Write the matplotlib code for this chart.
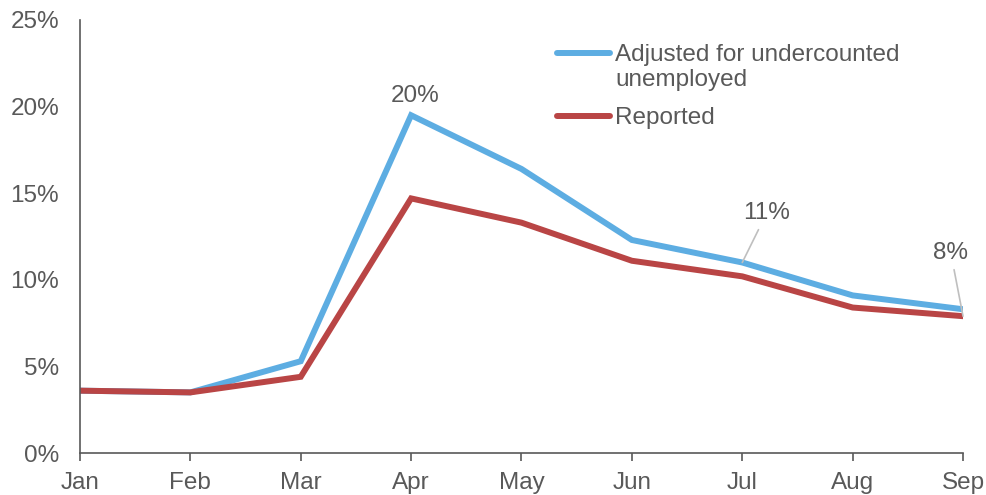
import matplotlib.pyplot as plt
from matplotlib.legend_handler import HandlerLine2D
from matplotlib.ticker import FuncFormatter

months = ["Jan", "Feb", "Mar", "Apr", "May", "Jun", "Jul", "Aug", "Sep"]
adjusted = [3.6, 3.5, 5.3, 19.5, 16.4, 12.3, 11.0, 9.1, 8.3]
reported = [3.6, 3.5, 4.4, 14.7, 13.3, 11.1, 10.2, 8.4, 7.9]

GRAY = "#595959"
BLUE = "#5DADE2"
RED = "#B94545"
FS = 17.5


class RaisedLine(HandlerLine2D):
    """Handle aligned with the first line of a two-line label."""

    def __init__(self, shift, **kw):
        super().__init__(**kw)
        self.shift = shift

    def create_artists(self, legend, orig_handle, xdescent, ydescent,
                       width, height, fontsize, trans):
        arts = super().create_artists(legend, orig_handle, xdescent, ydescent,
                                      width, height, fontsize, trans)
        for a in arts:
            a.set_ydata([y + self.shift for y in a.get_ydata()])
        return arts


plt.rcParams["font.family"] = ["Liberation Sans", "DejaVu Sans"]

fig = plt.figure(figsize=(9.86, 4.95), dpi=100)
ax = fig.add_axes([0.0811, 0.0848, 0.8956, 0.8748])

x = range(len(months))
l_adj, = ax.plot(x, adjusted, color=BLUE, lw=4.3, solid_joinstyle="miter",
                 solid_capstyle="round", label="Adjusted for undercounted\nunemployed")
ax.plot(x, reported, color=RED, lw=4.3, solid_joinstyle="miter",
        solid_capstyle="round", label="Reported")

ax.set_xlim(0, len(months) - 1)
ax.set_ylim(0, 25)
ax.set_yticks(range(0, 26, 5))
ax.yaxis.set_major_formatter(FuncFormatter(lambda v, _: f"{v:.0f}%"))
ax.set_xticks(list(x))
ax.set_xticklabels(months)

for s in ["top", "right"]:
    ax.spines[s].set_visible(False)
for s in ["left", "bottom"]:
    ax.spines[s].set_color(GRAY)
    ax.spines[s].set_linewidth(1.2)
ax.tick_params(axis="y", length=0, labelsize=FS, labelcolor=GRAY, pad=15)
ax.tick_params(axis="x", length=6, width=1.2, color=GRAY, labelsize=FS,
               labelcolor=GRAY, pad=8)

# labels
ax.annotate("20%", (3, adjusted[3]), xytext=(3.04, 20.0), textcoords="data",
            ha="center", va="bottom", fontsize=FS, color=GRAY)
ax.annotate("11%", (6, adjusted[6]), xytext=(6.22, 13.2), textcoords="data",
            ha="center", va="bottom", fontsize=FS, color=GRAY,
            arrowprops=dict(arrowstyle="-", color="#BFBFBF", lw=1.2,
                            shrinkA=2, shrinkB=0))
ax.annotate("8%", (8, reported[8]), xytext=(7.89, 10.9), textcoords="data",
            ha="center", va="bottom", fontsize=FS, color=GRAY,
            arrowprops=dict(arrowstyle="-", color="#BFBFBF", lw=1.2,
                            shrinkA=2, shrinkB=0))

leg = ax.legend(loc="upper left", bbox_to_anchor=(0.515, 0.995), frameon=False,
                fontsize=FS, handlelength=2.2, handletextpad=0.2,
                labelspacing=0.66, handler_map={l_adj: RaisedLine(10.5)})
for t in leg.get_texts():
    t.set_color(GRAY)
    t.set_linespacing(1.2)

fig.savefig("out.png", dpi=100)
